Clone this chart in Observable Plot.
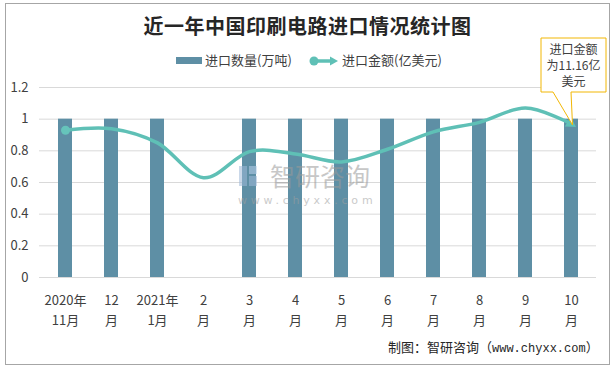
<!DOCTYPE html>
<html>
<head>
<meta charset="utf-8">
<script src="https://cdn.jsdelivr.net/npm/d3@7"></script>
<script src="https://cdn.jsdelivr.net/npm/@observablehq/plot@0.6"></script>
<style>
  html, body { margin: 0; padding: 0; background: #fff; }
  #wrap { position: relative; width: 615px; height: 370px; overflow: hidden; font-family: "Noto Sans CJK SC", "Noto Sans", sans-serif; color: #404040; }
  #frame { position: absolute; left: 5px; top: 3px; width: 605px; height: 362px; box-sizing: border-box; border: 1px solid #a6a6a6; background: #fff; }
  #title { position: absolute; left: 0; top: 11px; width: 615px; text-align: center; font-size: 20px; font-weight: 700; color: #262626; letter-spacing: 0.5px; }
  .leg { position: absolute; font-size: 13px; line-height: 16px; color: #404040; white-space: nowrap; }
  #footer { position: absolute; left: 388px; top: 338px; font-size: 13px; line-height: 18px; color: #262626; white-space: nowrap; }
  #footer .url { font-family: "Liberation Mono", "DejaVu Sans Mono", monospace; font-size: 12px; }
  #chart { position: absolute; left: 0; top: 0; }
  #wm { position: absolute; left: 237px; top: 158px; pointer-events: none; opacity: 0.55; }
</style>
</head>
<body>
<div id="wrap">
  <div id="frame"></div>
  <div id="title">近一年中国印刷电路进口情况统计图</div>
  <div class="leg" style="left:176px; top:57px; width:26px; height:7px; background:#5e8fa5;"></div>
  <div class="leg" style="left:205px; top:52px;">进口数量(万吨)</div>
  <svg class="leg" style="left:306px; top:53px;" width="36" height="16">
    <line x1="8" y1="8" x2="26" y2="8" stroke="#5fc0b6" stroke-width="3.5"></line>
    <circle cx="8" cy="8" r="4.5" fill="#5fc0b6"></circle>
    <path d="M24,3.5 L32,8 L24,12.5 Z" fill="#5fc0b6"></path>
  </svg>
  <div class="leg" style="left:342px; top:52px;">进口金额(亿美元)</div>
  <div id="chart"></div>
  <div id="footer">制图：智研咨询（<span class="url">www.chyxx.com</span>）</div>
</div>
<script>
const months = ["2020年\n11月", "12\n月", "2021年\n1月", "2\n月", "3\n月", "4\n月", "5\n月", "6\n月", "7\n月", "8\n月", "9\n月", "10\n月"];
const quantity = [1, 1, 1, null, 1, 1, 1, 1, 1, 1, 1, 1];
const amount = [0.93, 0.94, 0.85, 0.63, 0.795, 0.78, 0.73, 0.81, 0.92, 0.98, 1.07, 0.97];
const yTicks = [0, 0.2, 0.4, 0.6, 0.8, 1, 1.2];
const noteLines = ["进口金额", "为11.16亿", "美元"];

const data = months.map((m, i) => ({month: m, qty: quantity[i], amt: amount[i]}));
const barColor = "#5e8fa5";
const lineColor = "#5fc0b6";

const chart = Plot.plot({
  width: 615,
  height: 340,
  marginTop: 87,
  marginBottom: 63,
  marginLeft: 39,
  marginRight: 19,
  style: {fontFamily: "'Noto Sans CJK SC', 'Noto Sans', sans-serif", fontSize: "13px", color: "#404040", background: "transparent", overflow: "visible"},
  x: {domain: months, paddingInner: 0.7, paddingOuter: 0.35, axis: null},
  y: {domain: [0, 1.2], axis: null},
  marks: [
    Plot.ruleY(yTicks, {y: d => d, stroke: "#d9d9d9", strokeWidth: 1}),
    Plot.text(yTicks, {y: d => d, text: d => String(d), frameAnchor: "left", textAnchor: "end", dx: -11, fill: "#404040"}),
    Plot.barY(data.filter(d => d.qty != null), {x: "month", y: "qty", fill: barColor}),
    Plot.line(data, {x: "month", y: "amt", curve: "cardinal", stroke: lineColor, strokeWidth: 3.5}),
    Plot.dot(data.slice(0, 1), {x: "month", y: "amt", r: 4.5, fill: "#66c4bb"}),
    Plot.dot(data.slice(-1), {x: "month", y: "amt", symbol: "triangle", r: 4.2, fill: lineColor, rotate: 122, dx: -1, dy: -0.5}),
    Plot.text(data, {x: "month", text: "month", frameAnchor: "bottom", lineAnchor: "top", dy: 13, lineHeight: 1.55, fill: "#404040"})
  ]
});
document.getElementById("chart").appendChild(chart);

// watermark
const wm = document.createElement("div");
wm.id = "wm";
wm.innerHTML = '<svg width="175" height="52">' +
  '<rect x="2" y="8" width="8" height="20" fill="#9fb9d8"/><rect x="12" y="8" width="8" height="8" fill="#b8d0ea"/><rect x="12" y="18" width="8" height="10" fill="#9fb9d8"/>' +
  '<text x="33" y="28" font-size="25" fill="#9a9a9a" font-family="Noto Sans CJK SC">智研咨询</text>' +
  '<text x="1" y="46" font-size="11" fill="#a0a0a0" letter-spacing="3.8" font-family="DejaVu Sans">www.chyxx.com</text></svg>';
document.getElementById("wrap").appendChild(wm);

// callout annotation anchored to the last point through the plot scales
const xs = chart.scale("x"), ys = chart.scale("y");
const px = xs.apply(months[months.length - 1]) + xs.bandwidth / 2;
const py = ys.apply(amount[amount.length - 1]);
const svg = d3.select(chart);
const g = svg.append("g");
g.append("path")
  .attr("d", `M541,38 H606 V92 H${px} L${px + 1.5},${py + 1.5} L553,92 H541 Z`)
  .attr("fill", "#fff")
  .attr("stroke", "#f2b705")
  .attr("stroke-width", 1);
g.selectAll("text.note").data(noteLines).join("text")
  .attr("x", 573.5)
  .attr("y", (d, i) => 53.5 + i * 16)
  .attr("text-anchor", "middle")
  .attr("font-size", 12)
  .attr("fill", "#404040")
  .text(d => d);
</script>
</body>
</html>
